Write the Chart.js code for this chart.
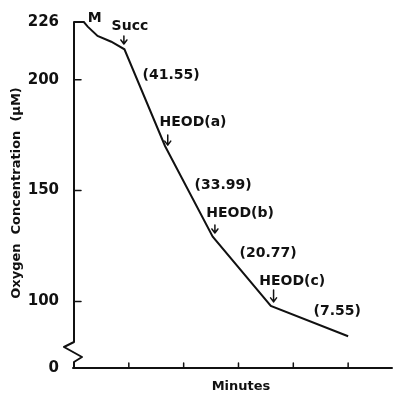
<!doctype html>
<html>
<head>
<meta charset="utf-8">
<title>Oxygen concentration trace</title>
<script src="https://cdn.jsdelivr.net/npm/chart.js@4.4.1/dist/chart.umd.min.js"></script>
<style>
    html, body { margin:0; padding:0; background:#fff; }
    #wrap { width:395px; height:394px; }
</style>
</head>
<body>
<div id="wrap"><canvas id="o2Chart" width="395" height="394"></canvas></div>
<script>
// trace: x in minute ticks, y in uM
var minutes = [0, 0.18, 0.25, 0.43, 0.68, 0.92, 1.66, 2.53, 3.59, 5.0];
var oxygen  = [226, 226, 223.9, 219.7, 217.1, 213.7, 170.1, 129.2, 98.0, 84.3];

// y axis is broken, the lowest tick stands for 0
var yTicks = [70, 100, 150, 200, 226];
var yTickLabels = ['0', '100', '150', '200', '226'];
var xTicks = [1, 2, 3, 4, 5];

// labels written on the trace
var noteText = ['M', 'Succ', '(41.55)', 'HEOD(a)', '(33.99)', 'HEOD(b)', '(20.77)', 'HEOD(c)', '(7.55)'];
var noteX    = [0.38, 1.02, 1.77, 2.17, 2.72, 3.03, 3.54, 3.98, 4.80];
var noteY    = [227.8, 224.2, 202.1, 180.9, 152.5, 139.9, 121.9, 109.2, 95.7];

// addition arrows
var arrowX      = [0.91, 1.71, 2.57, 3.64];
var arrowTop    = [219.7, 175.1, 134.5, 105.2];
var arrowBottom = [216.1, 170.5, 130.9, 99.8];

var ink = '#111';
var fontFam = '"DejaVu Sans", sans-serif';

var points = minutes.map(function(m, i){ return {x: m, y: oxygen[i]}; });

// axes, break mark, tick marks, notes and arrows
var decor = {
    id: 'decor',
    afterDraw: function(chart){
        var ctx = chart.ctx;
        var xs = chart.scales.x, ys = chart.scales.y;
        var a = chart.chartArea;
        var x0 = a.left, yb = a.bottom;
        ctx.save();
        ctx.strokeStyle = ink;
        ctx.fillStyle = ink;
        ctx.lineWidth = 2;
        ctx.lineCap = 'round';
        ctx.lineJoin = 'round';

        // y axis with zigzag break
        ctx.beginPath();
        ctx.moveTo(x0, ys.getPixelForValue(226));
        ctx.lineTo(x0, yb - 26);
        ctx.lineTo(x0 - 10, yb - 21);
        ctx.lineTo(x0 + 8, yb - 11);
        ctx.lineTo(x0, yb - 6);
        ctx.lineTo(x0, yb);
        ctx.stroke();

        // x axis
        ctx.beginPath();
        ctx.moveTo(x0 - 1, yb);
        ctx.lineTo(a.right, yb);
        ctx.stroke();

        // tick marks inside the axes
        ctx.lineWidth = 1.5;
        ctx.beginPath();
        yTicks.forEach(function(v){
            if (v === 70 || v === 226) return;
            var py = ys.getPixelForValue(v);
            ctx.moveTo(x0, py);
            ctx.lineTo(x0 + 7, py);
        });
        xTicks.forEach(function(v){
            var px = xs.getPixelForValue(v);
            ctx.moveTo(px, yb);
            ctx.lineTo(px, yb - 5);
        });
        ctx.stroke();

        // arrows
        ctx.lineWidth = 1.5;
        arrowX.forEach(function(v, i){
            var px = xs.getPixelForValue(v);
            var t = ys.getPixelForValue(arrowTop[i]);
            var b = ys.getPixelForValue(arrowBottom[i]);
            ctx.beginPath();
            ctx.moveTo(px, t);
            ctx.lineTo(px, b);
            ctx.moveTo(px - 3, b - 4);
            ctx.lineTo(px, b);
            ctx.lineTo(px + 3, b - 4);
            ctx.stroke();
        });

        // notes
        ctx.font = 'bold 14px ' + fontFam;
        ctx.textAlign = 'center';
        ctx.textBaseline = 'middle';
        noteText.forEach(function(t, i){
            ctx.fillText(t, xs.getPixelForValue(noteX[i]), ys.getPixelForValue(noteY[i]));
        });

        // axis titles
        ctx.font = 'bold 13px ' + fontFam;
        ctx.fillText('Minutes', 241, 387);
        ctx.translate(17, 193);
        ctx.rotate(-Math.PI / 2);
        ctx.fillText('Oxygen  Concentration  (\u03bcM)', 0, 0);
        ctx.restore();
    }
};

var o2Chart = new Chart(document.getElementById('o2Chart'), {
    type: 'line',
    data: {
        datasets: [{
            data: points,
            borderColor: ink,
            borderWidth: 2,
            pointRadius: 0,
            tension: 0,
            clip: false
        }]
    },
    options: {
        responsive: false,
        animation: false,
        layout: { padding: { top: 22, right: 3, left: 0, bottom: 0 } },
        plugins: { legend: { display: false }, tooltip: { enabled: false } },
        scales: {
            x: {
                type: 'linear', min: 0, max: 5.8,
                grid: { display: false },
                border: { display: false },
                ticks: { display: false },
                afterFit: function(s){ s.height = 26; }
            },
            y: {
                min: 70, max: 226,
                grid: { display: false },
                border: { display: false },
                afterBuildTicks: function(s){ s.ticks = yTicks.map(function(v){ return {value: v}; }); },
                ticks: {
                    autoSkip: false,
                    padding: 7,
                    color: ink,
                    font: { family: fontFam, weight: 'bold', size: 15 },
                    callback: function(v){ return yTickLabels[yTicks.indexOf(v)]; }
                },
                afterFit: function(s){ s.width = 74; }
            }
        }
    },
    plugins: [decor]
});
</script>
</body>
</html>
